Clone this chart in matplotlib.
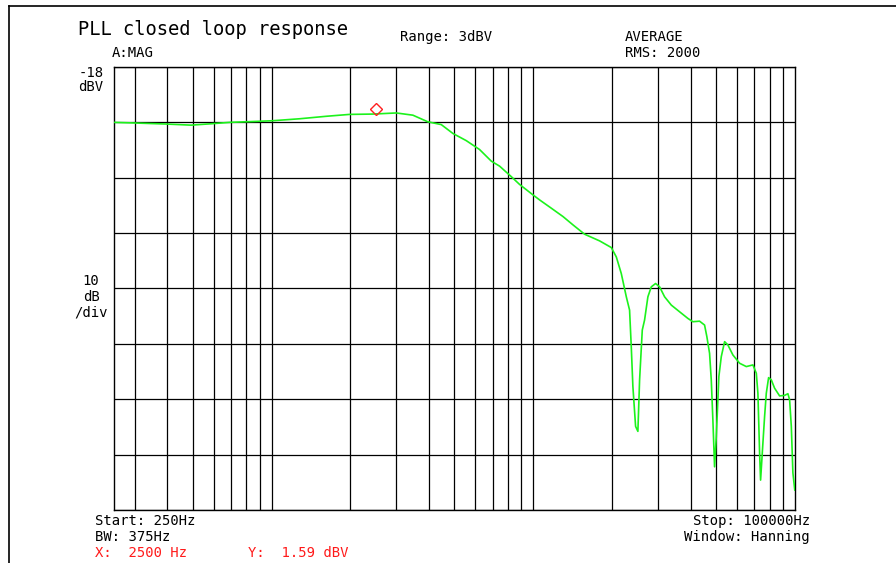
import matplotlib
matplotlib.use("Agg")
import matplotlib.pyplot as plt
from matplotlib.lines import Line2D
import numpy as np

# trace: frequency (Hz) and level (dBV)
freq_hz = [250, 295, 396, 493, 588, 691, 900, 1012, 1279, 1618, 1986, 2438,
           2996, 3467, 3956, 4450, 4930, 5546, 6233, 6911, 7433, 8240, 8862,
           9913, 10570, 11720, 12980, 14170, 15710, 17920, 19860, 20760,
           21690, 22670, 23330, 23680, 24020, 24600, 25100, 25480, 26090,
           26620, 27410, 28240, 29330, 30380, 31750, 33680, 36220, 38960,
           40720, 43190, 45130, 46050, 47160, 47870, 48550, 49280, 50030,
           51180, 52280, 53830, 55410, 57900, 61420, 65160, 69050, 71150,
           72150, 73240, 73880, 74990, 76530, 77690, 79270, 81180, 83560,
           87340, 91260, 93960, 95370, 96810, 98170, 99800]
level_dbv = [-28.0, -28.1, -28.3, -28.5, -28.25, -28.0, -27.8, -27.7, -27.35,
             -26.9, -26.56, -26.5, -26.3, -26.7, -27.9, -28.4, -30.0, -31.3,
             -32.9, -35.0, -35.9, -37.8, -39.2, -41.0, -42.0, -43.5, -45.0,
             -46.5, -48.2, -49.4, -50.6, -52.3, -55.3, -59.5, -61.9, -68.5,
             -75.7, -82.9, -83.8, -74.5, -65.5, -63.7, -59.5, -57.7, -57.1,
             -57.7, -59.5, -61.0, -62.2, -63.4, -64.0, -63.9, -64.6, -66.7,
             -69.7, -74.5, -81.7, -90.2, -84.8, -73.9, -70.3, -67.6, -68.2,
             -70.0, -71.5, -72.1, -71.8, -73.3, -76.9, -87.7, -92.6, -87.7,
             -81.1, -76.9, -74.1, -74.5, -76.0, -77.4, -77.3, -77.0, -78.1,
             -82.9, -91.3, -94.4]

marker_freq = 2500
marker_level = -25.5
marker_reading = "1.59 dBV"

start_hz = 250
stop_hz = 100000
ref_level = -18
db_per_div = 10
n_div = 8

W, H = 896, 563
fig = plt.figure(figsize=(W / 100, H / 100), dpi=100)
fig.patch.set_facecolor("white")


def fx(x):
    return x / W


def fy(y):
    return 1 - y / H


# plot area in pixels: x 114..795, y 67..510
ax = fig.add_axes([fx(114), fy(510), fx(795) - fx(114), fy(67) - fy(510)])
ax.set_xscale("log")
ax.set_xlim(start_hz, stop_hz)
ax.set_ylim(ref_level - n_div * db_per_div, ref_level)

# log grid: every 1..9 of each decade
grid_x = [m * 10 ** d for d in range(2, 5) for m in range(1, 10)]
grid_x = [g for g in grid_x if start_hz < g < stop_hz]
ax.set_xticks(grid_x)
ax.set_xticks([], minor=True)
ax.set_yticks(np.arange(ref_level - n_div * db_per_div, ref_level + 1, db_per_div))
ax.tick_params(which="both", length=0, labelbottom=False, labelleft=False)
ax.grid(True, which="major", color="black", lw=0.9)
for s in ax.spines.values():
    s.set_color("black")
    s.set_linewidth(1.0)

ax.plot(freq_hz, level_dbv, color="#1cf21c", lw=1.2, zorder=3)
ax.plot([marker_freq], [marker_level], marker="D", ms=6.5, mfc="none",
        mec="#ff2020", mew=1.0, zorder=4)

# screen frame
fig.add_artist(Line2D([fx(9), 1], [fy(6), fy(6)], color="black", lw=1.2))
fig.add_artist(Line2D([fx(9), fx(9)], [fy(6), 0], color="black", lw=1.2))

mono = "DejaVu Sans Mono"
small = 10


def label(x, y, s, ha="left", size=small, color="black"):
    fig.text(fx(x), fy(y), s, ha=ha, va="baseline", fontsize=size,
             family=mono, color=color)


label(78, 35, "PLL closed loop response", size=13.5)
label(112, 57, "A:MAG")
label(400, 41, "Range: 3dBV")
label(625, 41, "AVERAGE")
label(625, 57, "RMS: 2000")

label(91, 77, "-%d" % abs(ref_level), ha="center")
label(91, 91, "dBV", ha="center")
label(91, 285, "%d" % db_per_div, ha="center")
label(91, 301, "dB", ha="center")
label(91, 317, "/div", ha="center")

label(95, 525, "Start: %dHz" % start_hz)
label(95, 541, "BW: 375Hz")
label(95, 557, "X:  %d Hz" % marker_freq, color="#ff1a1a")
label(248, 557, "Y:  " + marker_reading, color="#ff1a1a")
label(810, 525, "Stop: %dHz" % stop_hz, ha="right")
label(810, 541, "Window: Hanning", ha="right")

fig.savefig("out.png", dpi=100)
